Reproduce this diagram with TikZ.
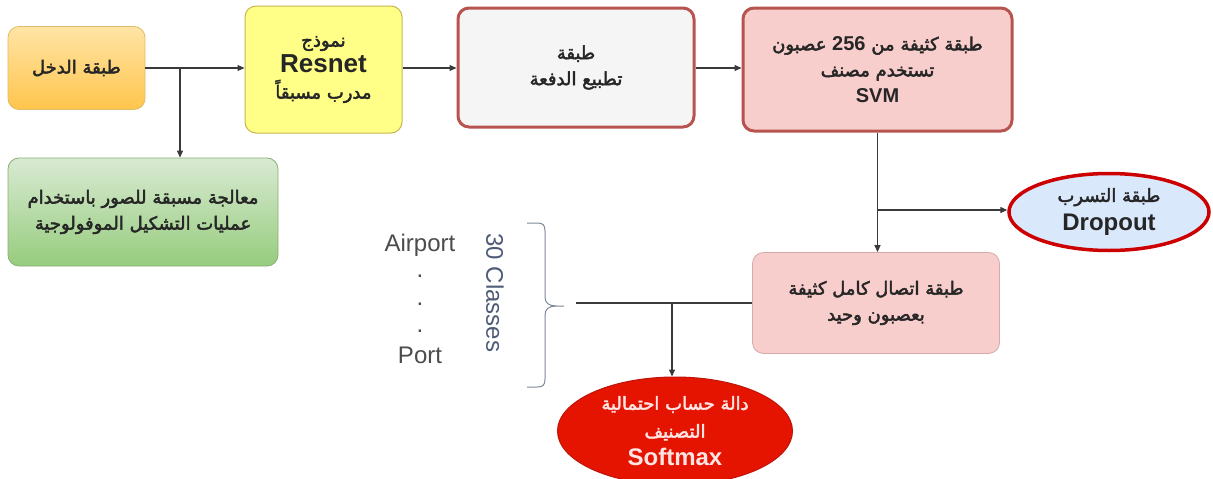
\documentclass[tikz,border=0pt]{standalone}
\usepackage{fontspec}
\TeXXeTstate=1
\setmainfont{Liberation Sans}
\newfontfamily\ar[Script=Arabic,FakeBold=2.5]{DejaVu Sans}
\usetikzlibrary{shapes.geometric,arrows.meta}
\definecolor{redline}{HTML}{B85450}
\definecolor{pinkfill}{HTML}{F8CECC}
\definecolor{linec}{HTML}{3A3A3A}
\definecolor{bracec}{HTML}{7F8A99}
\definecolor{labc}{HTML}{4F5B78}
\tikzset{
  box/.style={rectangle, rounded corners=11pt, align=center, inner sep=2pt, text=black!85,
    font=\ar\fontsize{18}{26}\selectfont},
  conn/.style={draw=linec, line width=1.1pt, -{Triangle[length=7pt,width=6pt]}},
  plain/.style={draw=linec, line width=1.3pt},
  lbl/.style={text=labc, font=\fontsize{24}{26}\selectfont, inner sep=0pt}
}
\newcommand{\latb}[2][22]{{\rmfamily\bfseries\fontsize{#1}{26}\selectfont #2}}
\newcommand{\rl}[1]{\beginR #1\endR}
\begin{document}
\begin{tikzpicture}[x=1pt,y=-1pt]
\useasboundingbox (0,0) rectangle (1213,479);
\fill[white] (0,0) rectangle (1213,479);

% boxes
\node[box, minimum width=137pt, minimum height=83pt, draw=orange!60!yellow!80!black!60, line width=0.8pt,
  top color=yellow!40!orange!35, bottom color=orange!65!yellow!70] (inp) at (76.5,68) {\rl{طبقة الدخل}};
\node[box, minimum width=157pt, minimum height=127pt, draw={rgb,255:red,200;green,180;blue,80}, line width=1pt,
  fill={rgb,255:red,255;green,255;blue,136}] (res) at (323.5,69.5)
  {\rl{نموذج}\\ \latb[26]{Resnet}\\ \rl{مدرب مسبقاً}};
\node[box, minimum width=270pt, minimum height=108pt, draw={rgb,255:red,140;green,175;blue,115}, line width=0.8pt,
  top color={rgb,255:red,217;green,234;blue,211}, bottom color={rgb,255:red,150;green,204;blue,125}] (pre) at (143,212)
  {\rl{معالجة مسبقة للصور باستخدام}\\ \rl{عمليات التشكيل الموفولوجية}};
\node[box, minimum width=236pt, minimum height=119pt, draw=redline, line width=3pt,
  fill={rgb,255:red,245;green,245;blue,245}] (bn) at (576,67.5)
  {\rl{طبقة}\\ \rl{تطبيع الدفعة}};
\node[box, minimum width=269pt, minimum height=123pt, draw=redline, line width=3pt,
  fill=pinkfill] (svm) at (877.5,69.5)
  {\rl{طبقة كثيفة من \beginL{\rmfamily\bfseries\fontsize{20}{26}\selectfont 256}\endL{} عصبون}\\ \rl{تستخدم مصنف}\\ \latb[20]{SVM}};
\node[ellipse, align=center, minimum width=200pt, minimum height=77pt, draw={rgb,255:red,204;green,0;blue,0},
  line width=3.5pt, fill={rgb,255:red,218;green,232;blue,252}, inner sep=0pt,
  font=\ar\fontsize{18}{29}\selectfont, text=black!85] (drop) at (1109,212)
  {\rl{طبقة التسرب}\\ \latb[24]{Dropout}};
\node[box, minimum width=247pt, minimum height=101pt, draw={rgb,255:red,215;green,170;blue,170}, line width=0.8pt,
  fill=pinkfill] (fc) at (876,303)
  {\rl{طبقة اتصال كامل كثيفة}\\ \rl{بعصبون وحيد}};
\node[ellipse, align=center, minimum width=235pt, minimum height=108pt,
  draw={rgb,255:red,190;green,20;blue,10}, line width=1pt, fill={rgb,255:red,229;green,20;blue,0},
  inner sep=0pt, font=\ar\fontsize{18}{28}\selectfont, text={rgb,255:red,255;green,228;blue,228}] (soft) at (675,431)
  {\rl{دالة حساب احتمالية}\\ \rl{التصنيف}\\ \latb[24]{Softmax}};

% labels
\node[lbl, text=black!70] (air) at (420,245) {Airport};
\node[lbl, text=black!70] (d1) at (420,276) {.};
\node[lbl, text=black!70] (d2) at (420,304) {.};
\node[lbl, text=black!70] (d3) at (420,331) {.};
\node[lbl, text=black!70] (port) at (420,355) {Port};
\node[lbl, rotate=-90] (cls) at (495,293) {30 Classes};

% brace
\draw[bracec, line width=1pt] (527,223) -- (537,223) .. controls (543,223) and (545,225) .. (545,231)
  -- (545,297) .. controls (545,303) and (549,306) .. (556,306) -- (564,306);
\draw[bracec, line width=1pt] (556,306) .. controls (549,306) and (545,309) .. (545,315)
  -- (545,379) .. controls (545,385) and (543,387) .. (537,387) -- (527,387);

% connectors
\draw[conn] (inp.east) -- (inp.east -| res.west);
\coordinate (b1) at (180,68);
\draw[conn] (b1) -- (b1 |- pre.north);
\draw[conn] (res.east |- 0,68) -- (bn.west |- 0,68);
\draw[conn] (bn.east |- 0,68) -- (svm.west |- 0,68);
\draw[conn, line width=1.4pt] (svm.south) -- (svm.south |- fc.north);
\coordinate (b2) at (877,210);
\draw[conn, line width=1.4pt] (b2) -- (drop.west |- b2);
\coordinate (fl) at (576,303);
\draw[plain] (fc.west) -- (fl);
\coordinate (b3) at (672,303);
\draw[conn, line width=1.4pt] (b3) -- (b3 |- soft.north);
\end{tikzpicture}
\end{document}
